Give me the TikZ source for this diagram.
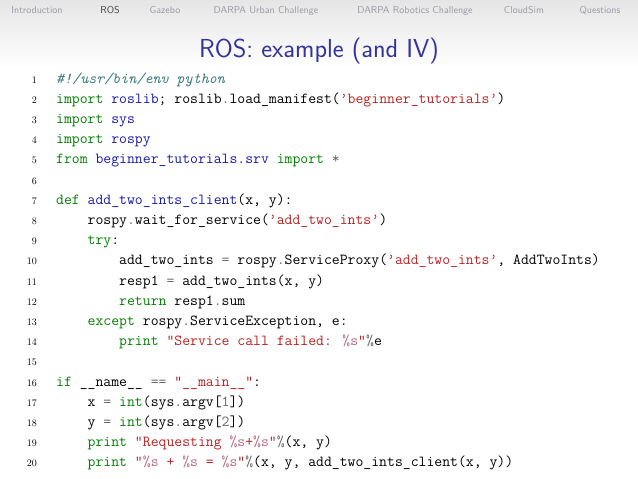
\documentclass[tikz,border=0pt]{standalone}
\usepackage{fontspec}
\definecolor{kw}{rgb}{0,0.5,0}
\definecolor{nm}{rgb}{0.1,0.1,0.65}
\definecolor{st}{rgb}{0.73,0.13,0.13}
\definecolor{op}{rgb}{0.4,0.4,0.4}
\definecolor{cm}{rgb}{0.25,0.5,0.5}
\definecolor{si}{rgb}{0.73,0.4,0.53}
\definecolor{navc}{rgb}{0.6,0.6,0.65}
\definecolor{ttl}{rgb}{0.2,0.2,0.6}
\newcommand{\K}[1]{\textcolor{kw}{#1}}
\newcommand{\N}[1]{\textcolor{nm}{#1}}
\newcommand{\Sx}[1]{\textcolor{st}{#1}}
\newcommand{\Op}[1]{\textcolor{op}{#1}}
\newcommand{\I}{\textcolor{si}{\%s}}
\newcommand{\q}{\textquoteright}
\begin{document}
\begin{tikzpicture}[x=1pt,y=-1pt,
  nav/.style={font=\sffamily\fontsize{10}{11}\selectfont,text=navc,anchor=base},
  code/.style={font=\ttfamily\fontsize{15.3}{16}\selectfont,anchor=base west,inner sep=0},
  lnum/.style={font=\fontsize{10}{11}\selectfont,anchor=base east,inner sep=0}]
\useasboundingbox (0,0) rectangle (638,479);
\fill[top color=black!10,bottom color=white] (0,0) rectangle (638,68);
\node[nav] (n1) at (37,13) {Introduction};
\node[nav,text=black!75] (n2) at (110,13) {ROS};
\node[nav] (n3) at (165,13) {Gazebo};
\node[nav] (n4) at (266,13) {DARPA Urban Challenge};
\node[nav] (n5) at (415,13) {DARPA Robotics Challenge};
\node[nav] (n6) at (524,13) {CloudSim};
\node[nav] (n7) at (600,13) {Questions};
\node[font=\sffamily\fontsize{26}{28}\selectfont,text=ttl,anchor=base] (t) at (319,57) {ROS: example (and IV)};
\foreach \i in {1,...,20}{\node[lnum] (l\i) at (37,{83+(\i-1)*20.2}) {\i};}
\def\Y#1{{83+(#1-1)*20.2}}
\node[code] (c1) at (56,\Y1) {\textcolor{cm}{\itshape \#!/usr/bin/env python}};
\node[code] (c2) at (56,\Y2) {\K{import} \N{roslib}; roslib\Op{.}load\_manifest(\Sx{\q beginner\_tutorials\q})};
\node[code] (c3) at (56,\Y3) {\K{import} \N{sys}};
\node[code] (c4) at (56,\Y4) {\K{import} \N{rospy}};
\node[code] (c5) at (56,\Y5) {\K{from} \N{beginner\_tutorials.srv} \K{import} \Op{*}};
\node[code] (c7) at (56,\Y7) {\K{def} \N{add\_two\_ints\_client}(x, y):};
\node[code] (c8) at (56,\Y8) {\phantom{xxxx}rospy\Op{.}wait\_for\_service(\Sx{\q add\_two\_ints\q})};
\node[code] (c9) at (56,\Y9) {\phantom{xxxx}\K{try}:};
\node[code] (c10) at (56,\Y{10}) {\phantom{xxxxxxxx}add\_two\_ints \Op{=} rospy\Op{.}ServiceProxy(\Sx{\q add\_two\_ints\q}, AddTwoInts)};
\node[code] (c11) at (56,\Y{11}) {\phantom{xxxxxxxx}resp1 \Op{=} add\_two\_ints(x, y)};
\node[code] (c12) at (56,\Y{12}) {\phantom{xxxxxxxx}\K{return} resp1\Op{.}sum};
\node[code] (c13) at (56,\Y{13}) {\phantom{xxxx}\K{except} rospy\Op{.}ServiceException, e:};
\node[code] (c14) at (56,\Y{14}) {\phantom{xxxxxxxx}\K{print} \Sx{"Service call failed: }\I\Sx{"}\Op{\%}e};
\node[code] (c16) at (56,\Y{16}) {\K{if} \_\_name\_\_ \Op{==} \Sx{"\_\_main\_\_"}:};
\node[code] (c17) at (56,\Y{17}) {\phantom{xxxx}x \Op{=} \K{int}(sys\Op{.}argv[\Op{1}])};
\node[code] (c18) at (56,\Y{18}) {\phantom{xxxx}y \Op{=} \K{int}(sys\Op{.}argv[\Op{2}])};
\node[code] (c19) at (56,\Y{19}) {\phantom{xxxx}\K{print} \Sx{"Requesting }\I\Sx{+}\I\Sx{"}\Op{\%}(x, y)};
\node[code] (c20) at (56,\Y{20}) {\phantom{xxxx}\K{print} \Sx{"}\I\Sx{\ + }\I\Sx{\ = }\I\Sx{"}\Op{\%}(x, y, add\_two\_ints\_client(x, y))};
\end{tikzpicture}
\end{document}
